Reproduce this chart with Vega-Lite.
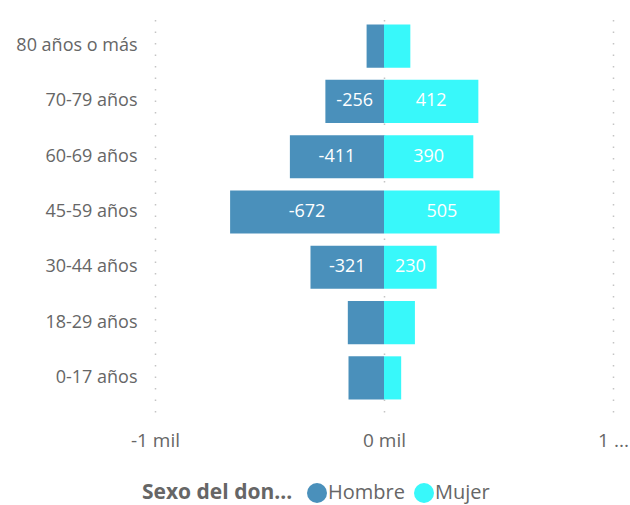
{
  "$schema": "https://vega.github.io/schema/vega-lite/v6.json",
  "width": 458,
  "height": 400,
  "autosize": {"type": "none"},
  "padding": {"left": 155, "top": 12, "right": 17, "bottom": 93},
  "background": "white",
  "config": {"view": {"stroke": null}, "font": "Open Sans"},
  "data": {
    "values": [
      {"edad": "80 años o más", "sexo": "Hombre", "valor": -76},
      {"edad": "80 años o más", "sexo": "Mujer", "valor": 115},
      {"edad": "70-79 años", "sexo": "Hombre", "valor": -256},
      {"edad": "70-79 años", "sexo": "Mujer", "valor": 412},
      {"edad": "60-69 años", "sexo": "Hombre", "valor": -411},
      {"edad": "60-69 años", "sexo": "Mujer", "valor": 390},
      {"edad": "45-59 años", "sexo": "Hombre", "valor": -672},
      {"edad": "45-59 años", "sexo": "Mujer", "valor": 505},
      {"edad": "30-44 años", "sexo": "Hombre", "valor": -321},
      {"edad": "30-44 años", "sexo": "Mujer", "valor": 230},
      {"edad": "18-29 años", "sexo": "Hombre", "valor": -158},
      {"edad": "18-29 años", "sexo": "Mujer", "valor": 135},
      {"edad": "0-17 años", "sexo": "Hombre", "valor": -155},
      {"edad": "0-17 años", "sexo": "Mujer", "valor": 75}
    ]
  },
  "encoding": {
    "y": {
      "field": "edad",
      "type": "nominal",
      "sort": ["80 años o más", "70-79 años", "60-69 años", "45-59 años", "30-44 años", "18-29 años", "0-17 años"],
      "scale": {"paddingInner": 0.22, "paddingOuter": 0.227},
      "axis": {
        "title": null,
        "domain": false,
        "ticks": false,
        "grid": false,
        "labelPadding": 18,
        "labelFontSize": 18,
        "labelColor": "#666666",
        "labelFont": "Open Sans"
      }
    }
  },
  "layer": [
    {
      "mark": {"type": "bar"},
      "encoding": {
        "x": {
          "field": "valor",
          "type": "quantitative",
          "scale": {"domain": [-1000, 1000], "nice": false},
          "axis": {
            "title": null,
            "values": [-1000, 0, 1000],
            "domain": false,
            "ticks": false,
            "grid": true,
            "gridColor": "#c4c4c4",
            "gridDash": [1.5, 10],
            "gridWidth": 1.5,
            "labelFlush": false,
            "labelPadding": 19,
            "labelFontSize": 19,
            "labelColor": "#666666",
            "labelFont": "Open Sans",
            "labelExpr": "datum.value == 1000 ? '1 ...' : toString(datum.value / 1000) + ' mil'"
          }
        },
        "color": {
          "field": "sexo",
          "type": "nominal",
          "scale": {"domain": ["Hombre", "Mujer"], "range": ["#4A90BB", "#38F8FA"]},
          "legend": {
            "title": "Sexo del don...",
            "orient": "none",
            "direction": "horizontal",
            "titleOrient": "left",
            "legendX": -13,
            "legendY": 471,
            "titleFontSize": 21,
            "titleFont": "Open Sans",
            "titleFontWeight": "bold",
            "titleColor": "#666666",
            "titlePadding": 14,
            "labelFontSize": 20,
            "labelFont": "Open Sans",
            "labelColor": "#666666",
            "labelOffset": 1,
            "symbolType": "circle",
            "symbolSize": 400,
            "symbolStrokeWidth": 0,
            "columnPadding": 9
          }
        }
      }
    },
    {
      "transform": [
        {"filter": "abs(datum.valor) >= 200"},
        {"calculate": "datum.valor / 2", "as": "medio"}
      ],
      "mark": {"type": "text", "color": "white", "fontSize": 18, "font": "Open Sans", "baseline": "middle", "align": "center"},
      "encoding": {
        "x": {"field": "medio", "type": "quantitative"},
        "text": {"field": "valor", "type": "nominal"}
      }
    }
  ]
}
